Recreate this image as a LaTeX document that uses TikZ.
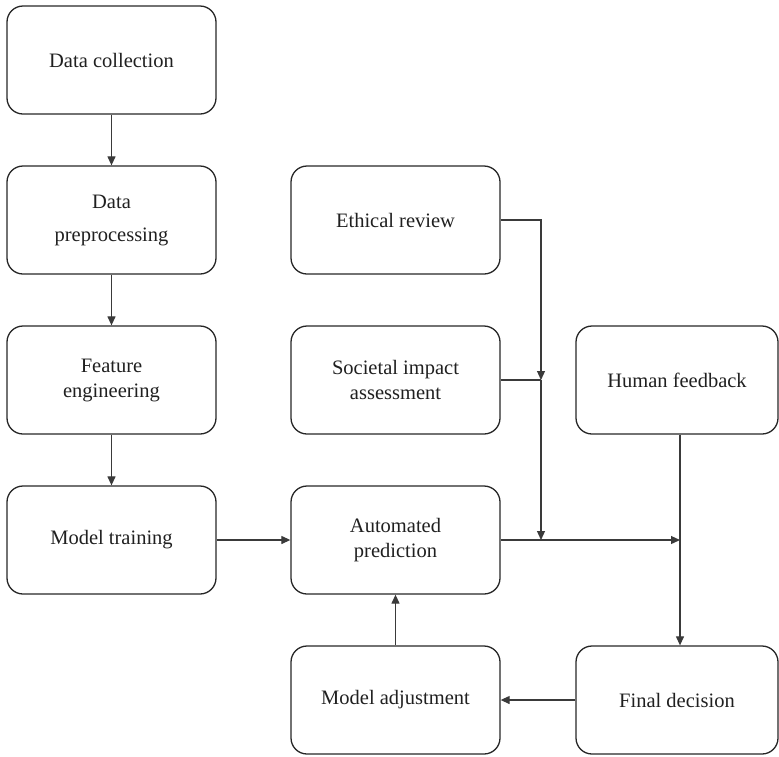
\documentclass[tikz,border=0pt]{standalone}
\usepackage{fontspec}
\setmainfont{Liberation Serif}
\usetikzlibrary{arrows.meta}
\definecolor{boxline}{HTML}{262626}
\definecolor{wire}{HTML}{3A3A3A}
\definecolor{ink}{HTML}{202020}
\begin{document}
\begin{tikzpicture}[x=1pt,y=-1pt,
  stage/.style={draw=boxline, line width=1.3pt, rounded corners=16pt,
    minimum width=209pt, minimum height=108pt, align=center, text=ink,
    inner sep=0pt, font=\fontsize{20.5}{25}\selectfont},
  arr/.style={draw=wire, line width=1.2pt, -{Triangle[length=9pt,width=8pt]}},
  wireline/.style={draw=wire, line width=1.2pt}]
\useasboundingbox (0,0) rectangle (779,756);

% left column
\node[stage] (dc) at (111.5,60) {Data collection};
\node[stage] (dp) at (111.5,220) {Data\\[8pt]preprocessing};
\node[stage] (fe) at (111.5,380) {Feature\\engineering};
\node[stage] (mt) at (111.5,540) {Model training};

% middle column
\node[stage] (er) at (395.5,220) {Ethical review};
\node[stage] (si) at (395.5,380) {Societal impact\\assessment};
\node[stage] (ap) at (395.5,540) {Automated\\prediction};
\node[stage] (ma) at (395.5,700) {Model adjustment};

% right column
\node[stage, minimum width=202pt] (hf) at (677,380) {Human feedback};
\node[stage, minimum width=202pt] (fd) at (677,700) {Final decision};

% junction points on the review bus
\coordinate (j1) at (541,380);
\coordinate (j2) at (541,540);
\coordinate (j3) at (680,540);

% main pipeline
\draw[arr] (dc.south) -- (dp.north);
\draw[arr] (dp.south) -- (fe.north);
\draw[arr] (fe.south) -- (mt.north);
\draw[arr] (mt.east) -- (ap.west);

% review inputs merging into the prediction path
\draw[arr] (er.east) -| (j1);
\draw[wireline] (si.east) -- (j1);
\draw[arr] (j1) -- (j2);
\draw[arr] (ap.east) -- (j3);

% feedback loop
\draw[arr] ([xshift=3pt]hf.south) -- ([xshift=3pt]fd.north);
\draw[arr] (fd.west) -- (ma.east);
\draw[arr] (ma.north) -- (ap.south);
\end{tikzpicture}
\end{document}
